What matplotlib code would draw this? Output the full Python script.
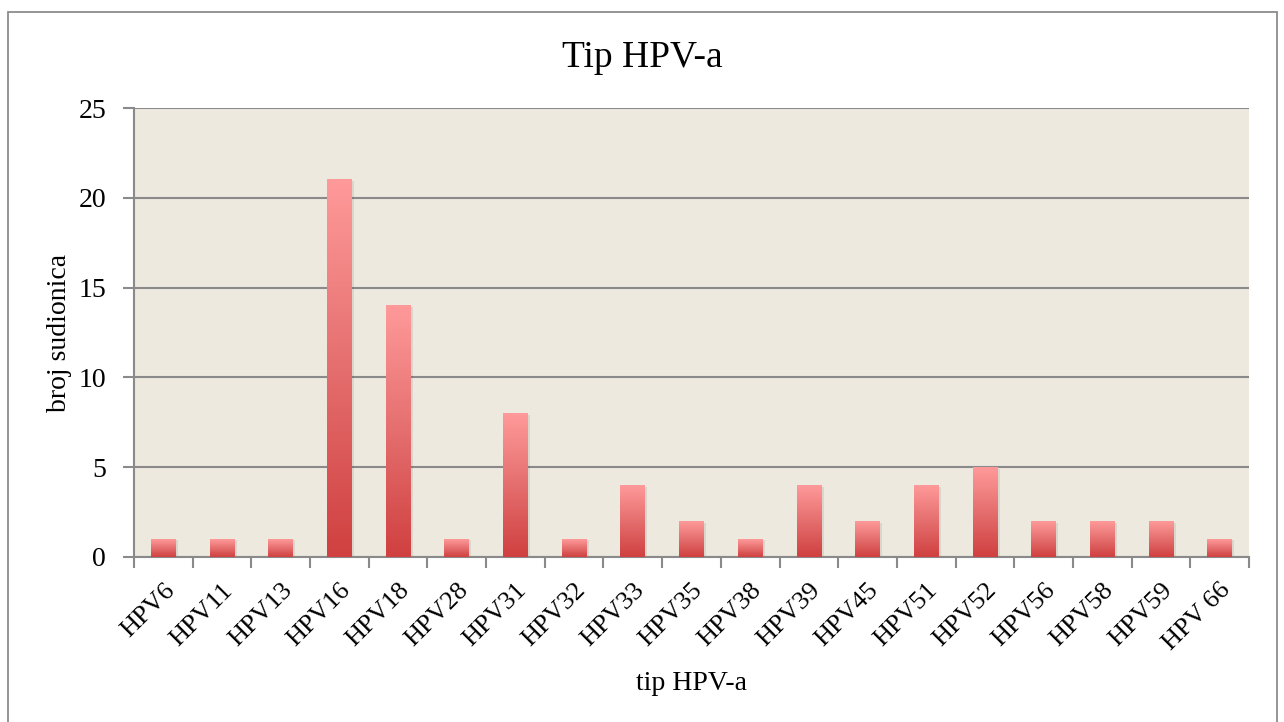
import numpy as np
import matplotlib.pyplot as plt
import matplotlib.transforms as mtransforms
from matplotlib.colors import LinearSegmentedColormap
from matplotlib.patches import Rectangle

# chart data
categories = ["HPV6", "HPV11", "HPV13", "HPV16", "HPV18", "HPV28", "HPV31", "HPV32",
              "HPV33", "HPV35", "HPV38", "HPV39", "HPV45", "HPV51", "HPV52", "HPV56",
              "HPV58", "HPV59", "HPV 66"]
counts = [1, 1, 1, 21, 14, 1, 8, 1, 4, 2, 1, 4, 2, 4, 5, 2, 2, 2, 1]
yticks = [0, 5, 10, 15, 20, 25]

plt.rcParams["font.family"] = ["Liberation Serif", "DejaVu Serif"]

fig = plt.figure(figsize=(12.84, 7.22), dpi=100)
ax = fig.add_axes([134 / 1284, 1 - 557 / 722, (1249 - 134) / 1284, (557 - 108) / 722])

# outer frame of the chart
fig.patches.append(Rectangle((8 / 1284, -0.01), (1277 - 8) / 1284, (1 - 12 / 722) + 0.01,
                             transform=fig.transFigure, fill=False,
                             edgecolor="#8c8c8c", linewidth=1.3))

ax.set_facecolor("#ede9df")
cmap = LinearSegmentedColormap.from_list("bar", ["#d04040", "#e56e6e", "#ff9a9a"])
grad = np.linspace(0, 1, 256).reshape(-1, 1)
width = 0.42
x = np.arange(len(categories))

for xi, h in zip(x, counts):
    # soft shadow
    ax.add_patch(Rectangle((xi - width / 2 + 0.04, 0), width, h - 0.08,
                           facecolor="#000000", alpha=0.08, linewidth=0, zorder=2))
    ax.imshow(grad, cmap=cmap, origin="lower", aspect="auto",
              extent=[xi - width / 2, xi + width / 2, 0, h], zorder=3)

ax.set_xlim(-0.5, len(categories) - 0.5)
ax.set_ylim(0, 25)
ax.set_yticks(yticks)
ax.yaxis.grid(True, color="#8a8a8a", linewidth=1.5)
ax.set_axisbelow(True)

ax.set_xticks(np.arange(-0.5, len(categories) + 0.5, 1.0))
ax.set_xticklabels([])
ax.set_xticks(x, minor=True)
ax.set_xticklabels(categories, minor=True, rotation=45, ha="right", va="top",
                   rotation_mode="anchor", fontsize=19)
shift = mtransforms.ScaledTranslation(-7 / 100, 0, fig.dpi_scale_trans)
for lbl in ax.get_xticklabels(minor=True):
    lbl.set_transform(lbl.get_transform() + shift)
ax.tick_params(axis="x", which="minor", length=0, pad=16)
ax.tick_params(axis="x", which="major", length=8, width=1.5, color="#8a8a8a", direction="out")
ax.tick_params(axis="y", length=8, width=1.5, color="#8a8a8a", labelsize=20, pad=12)

for s in ["top", "right"]:
    ax.spines[s].set_visible(False)
for s in ["left", "bottom"]:
    ax.spines[s].set_color("#8a8a8a")
    ax.spines[s].set_linewidth(1.5)

fig.text(0.5, 1 - 67 / 722, "Tip HPV-a", fontsize=27, ha="center", va="baseline")
fig.text(59 / 1284, 1 - 333 / 722, "broj sudionica", fontsize=20, rotation=90,
         ha="center", va="center")
fig.text((134 + 1249) / 2 / 1284, 1 - 683 / 722, "tip HPV-a", fontsize=20,
         ha="center", va="center")

fig.savefig("out.png", dpi=100)
